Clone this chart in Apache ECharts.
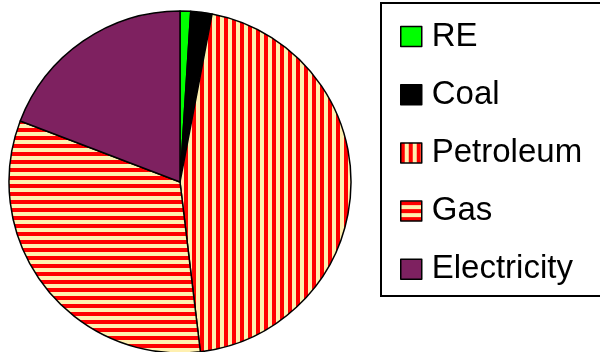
<!DOCTYPE html>
<html>
<head>
<meta charset="utf-8">
<script src="https://cdn.jsdelivr.net/npm/echarts@6/dist/echarts.min.js"></script>
<style>
  html, body { margin: 0; padding: 0; background: #fff; }
  #chart { width: 600px; height: 352px; }
</style>
</head>
<body>
<div id="chart"></div>
<script>
// Energy use by source (percent shares)
const categories = ['RE', 'Coal', 'Petroleum', 'Gas', 'Electricity'];
const shares = [1.0, 2.0, 45.1, 32.7, 19.2];

// Striped fills: vertical stripes for petroleum, horizontal for gas
function stripes(vertical) {
  const c = document.createElement('canvas');
  c.width = 8; c.height = 8;
  const g = c.getContext('2d');
  g.fillStyle = '#FFF0B0';
  g.fillRect(0, 0, 8, 8);
  g.fillStyle = '#FF0000';
  if (vertical) g.fillRect(0, 0, 4, 8); else g.fillRect(0, 0, 8, 4);
  return { image: c, repeat: 'repeat' };
}

const fills = ['#00FF00', '#000000', stripes(true), stripes(false), '#7E2160'];

const chart = echarts.init(document.getElementById('chart'), null, { renderer: 'canvas' });
chart.setOption({
  animation: false,
  backgroundColor: '#ffffff',
  graphic: [{
    type: 'rect',
    shape: { x: 381, y: 3, width: 240, height: 293 },
    style: { fill: 'none', stroke: '#000', lineWidth: 2 },
    silent: true,
    z: 0
  }],
  legend: {
    orient: 'vertical',
    left: 400,
    top: 20,
    padding: 0,
    itemWidth: 21,
    itemHeight: 20,
    itemGap: 25.2,
    icon: 'rect',
    itemStyle: { borderColor: '#000', borderWidth: 1.5 },
    textStyle: {
      fontFamily: 'Liberation Sans, Arial, sans-serif',
      fontSize: 33,
      color: '#000',
      padding: [0, 0, 0, 5]
    },
    data: categories
  },
  series: [{
    type: 'pie',
    center: [180, 182],
    radius: 171,
    startAngle: 90,
    clockwise: true,
    label: { show: false },
    labelLine: { show: false },
    emphasis: { disabled: true },
    itemStyle: { borderColor: '#000', borderWidth: 1.5 },
    data: categories.map((name, i) => ({
      name,
      value: shares[i],
      itemStyle: { color: fills[i] }
    }))
  }]
});
</script>
</body>
</html>
